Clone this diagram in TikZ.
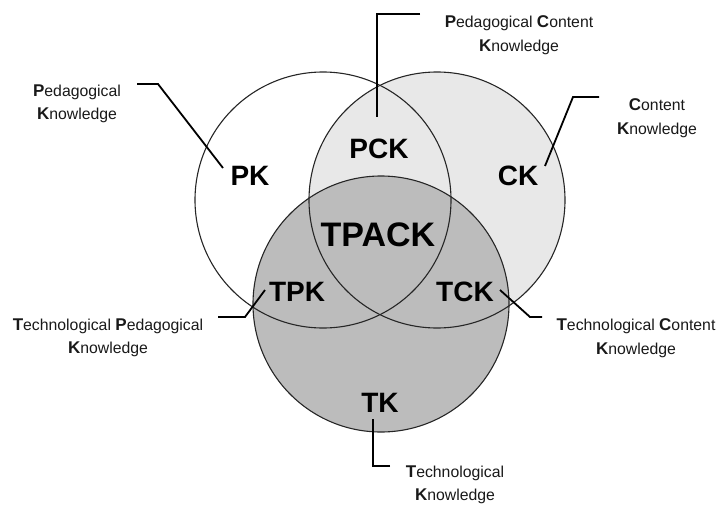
\documentclass[tikz,border=0pt]{standalone}
\usepackage{fontspec}
\setmainfont{Liberation Sans}
\newcommand{\ini}[1]{{\fontsize{17}{17}\selectfont\bfseries #1}}
\tikzset{
  set/.style={draw=black!85, line width=1.1pt},
  big/.style={inner sep=0pt, font=\fontsize{28}{28}\selectfont\bfseries},
  huge/.style={inner sep=0pt, font=\fontsize{34}{34}\selectfont\bfseries},
  desc/.style={inner sep=0pt, align=center, font=\fontsize{15.8}{23.5}\selectfont, text=black!90},
  lead/.style={draw=black, line width=1.8pt},
}
\definecolor{lightset}{RGB}{232,232,232}
\definecolor{darkset}{RGB}{188,188,188}
\begin{document}
\begin{tikzpicture}[x=1pt,y=-1pt]
\useasboundingbox (0,0) rectangle (717,506);
% circles
\fill[white] (323,200) circle (128);
\fill[lightset] (437,200) circle (128);
\fill[darkset] (381,304) circle (128);
\node[set, circle, minimum size=256pt, inner sep=0pt] (cP) at (323,200) {};
\node[set, circle, minimum size=256pt, inner sep=0pt] (cC) at (437,200) {};
\node[set, circle, minimum size=256pt, inner sep=0pt] (cT) at (381,304) {};
% region labels
\node[big] (pk) at (250,176) {PK};
\node[big] (pck) at (379,149) {PCK};
\node[big] (ck) at (518,176) {CK};
\node[huge] (tpack) at (378,235) {TPACK};
\node[big] (tpk) at (297,292) {TPK};
\node[big] (tck) at (465,292) {TCK};
\node[big] (tk) at (380,403) {TK};
% descriptions
\node[desc] (dpk) at (77,104) {\ini{P}edagogical\\\ini{K}nowledge};
\node[desc] (dpck) at (519,35) {\ini{P}edagogical \ini{C}ontent\\\ini{K}nowledge};
\node[desc] (dck) at (657,118) {\ini{C}ontent\\\ini{K}nowledge};
\node[desc] (dtpk) at (108,338) {\ini{T}echnological \ini{P}edagogical\\\ini{K}nowledge};
\node[desc] (dtck) at (636,338) {\ini{T}echnological \ini{C}ontent\\\ini{K}nowledge};
\node[desc] (dtk) at (455,485) {\ini{T}echnological\\\ini{K}nowledge};
% leader coordinates
\coordinate (pkA) at (137,84);  \coordinate (pkB) at (158,84);  \coordinate (pkC) at (223,168);
\coordinate (pckA) at (420,14); \coordinate (pckB) at (377,14); \coordinate (pckC) at (377,117);
\coordinate (ckA) at (599,97);  \coordinate (ckB) at (573,97);  \coordinate (ckC) at (545,166);
\coordinate (tpkA) at (218,317); \coordinate (tpkB) at (245,317); \coordinate (tpkC) at (265,290);
\coordinate (tckA) at (542,317); \coordinate (tckB) at (530,317); \coordinate (tckC) at (500,290);
\coordinate (tkA) at (390,466); \coordinate (tkB) at (373,466); \coordinate (tkC) at (373,419);
\draw[lead] (pkA) -- (pkB) -- (pkC);
\draw[lead] (pckA) -- (pckB) -- (pckC);
\draw[lead] (ckA) -- (ckB) -- (ckC);
\draw[lead] (tpkA) -- (tpkB) -- (tpkC);
\draw[lead] (tckA) -- (tckB) -- (tckC);
\draw[lead] (tkA) -- (tkB) -- (tkC);
\end{tikzpicture}
\end{document}
